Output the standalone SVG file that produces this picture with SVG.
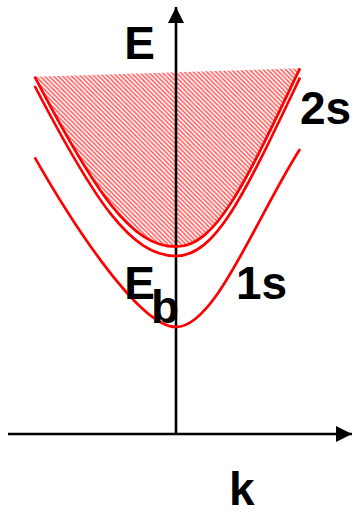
<svg xmlns="http://www.w3.org/2000/svg" width="354" height="515" viewBox="0 0 354 515">
  <style>
    .axis { stroke: #000; stroke-width: 2.6; fill: none; }
    .band { stroke: #ff0000; stroke-width: 2.7; fill: none; }
    .lbl { font-family: "Liberation Sans", Arial, sans-serif; font-weight: bold; font-size: 46px; fill: #000; }
  </style>
  <defs>
    <pattern id="hatch" patternUnits="userSpaceOnUse" width="4.5" height="4.5">
      <path d="M-1,3.5 L1,5.5 M0,0 L4.5,4.5 M3.5,-1 L5.5,1" stroke="#ff1a1a" stroke-width="1.5" stroke-opacity="0.72"/>
    </pattern>
    <marker id="arr" viewBox="0 0 16 16" refX="16" refY="8" markerWidth="16" markerHeight="16" markerUnits="userSpaceOnUse" orient="auto">
      <path d="M0,0 L16,8 L0,16 Z" fill="#000"/>
    </marker>
  </defs>

  <g id="continuum">
    <path d="M34.7,76.7 C94.7,191.9 131,246.7 176,246.7 C216,246.7 245,183.8 300,68.3 Z" fill="url(#hatch)" stroke="none"/>
  </g>

  <g id="connectors">
    <line class="axis" x1="176" y1="434" x2="176" y2="7"  marker-end="url(#arr)"/>
    <line class="axis" x1="8"   y1="434" x2="352" y2="434" marker-end="url(#arr)"/>
  </g>

  <g id="band-2s-upper">
    <path class="band" d="M34.7,76.7 C94.7,191.9 131,246.7 176,246.7 C216,246.7 245,183.8 300,68.3"/>
  </g>
  <g id="band-2s-lower">
    <path class="band" d="M34.7,86 C94.7,201.2 131,256 176,256 C216,256 245,193.1 300,77.6"/>
  </g>
  <g id="band-1s">
    <path class="band" d="M34.7,157.3 C75,228 140,327 176,327 C215,327 255,220 300,149"/>
  </g>

  <g id="labels">
    <text class="lbl" x="124.3" y="59.3">E</text>
    <text class="lbl" x="300" y="124">2s</text>
    <text class="lbl" x="124.3" y="299">E</text>
    <text class="lbl" x="151" y="322.5">b</text>
    <text class="lbl" x="236" y="299">1s</text>
    <text class="lbl" x="229" y="505">k</text>
  </g>
</svg>
